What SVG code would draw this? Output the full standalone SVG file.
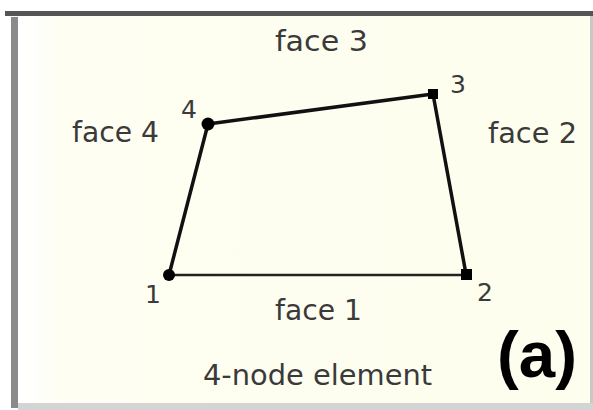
<svg xmlns="http://www.w3.org/2000/svg" width="593" height="410" viewBox="0 0 593 410">
<defs>
<linearGradient id="bg" x1="0" y1="0" x2="1" y2="0">
<stop offset="0" stop-color="#ffffff"/>
<stop offset="0.08" stop-color="#fefef2"/>
<stop offset="1" stop-color="#fefeee"/>
</linearGradient>
<style>
.t{font-family:"DejaVu Sans","Liberation Sans",sans-serif;font-size:28px;fill:#3a3a3a}
.n{font-family:"DejaVu Sans","Liberation Sans",sans-serif;font-size:25px;fill:#3a3a3a}
.edge{stroke:#111;stroke-width:3.5;stroke-linecap:round;fill:none}
.dot{fill:#000}
</style>
</defs>
<rect x="0" y="0" width="593" height="410" fill="#ffffff"/>
<rect x="18" y="16" width="573" height="387" fill="url(#bg)"/>
<rect x="5" y="11" width="588" height="5" fill="#555555"/>
<rect x="11" y="17" width="7" height="391" fill="#8a8a8a"/>
<rect x="590" y="16" width="3" height="390" fill="#c8c8c8"/>
<rect x="18" y="403" width="575" height="7" fill="#d4d4d4"/>
<g id="connectors">
<line class="edge" x1="169" y1="275" x2="208" y2="124"/>
<line class="edge" x1="208" y1="124" x2="433" y2="94"/>
<line class="edge" x1="433" y1="94" x2="466" y2="274"/>
<line x1="169" y1="275" x2="466" y2="275" stroke="#222" stroke-width="2.5"/>
</g>
<g id="node1"><circle class="dot" cx="169" cy="275" r="6"/><text class="n" x="145" y="303">1</text></g>
<g id="node2"><rect class="dot" x="461" y="269" width="11" height="11"/><text class="n" x="477" y="301">2</text></g>
<g id="node3"><rect class="dot" x="428" y="89" width="10" height="10"/><text class="n" x="450" y="93">3</text></g>
<g id="node4"><circle class="dot" cx="208" cy="124" r="6.5"/><text class="n" x="181" y="118">4</text></g>
<g id="labels">
<text class="t" x="275" y="51" textLength="93" lengthAdjust="spacingAndGlyphs">face 3</text>
<text class="t" x="72" y="142" textLength="87" lengthAdjust="spacingAndGlyphs">face 4</text>
<text class="t" x="488" y="143" textLength="89" lengthAdjust="spacingAndGlyphs">face 2</text>
<text class="t" x="275" y="320" textLength="87" lengthAdjust="spacingAndGlyphs">face 1</text>
<text class="t" x="203" y="385" textLength="229" lengthAdjust="spacingAndGlyphs">4-node element</text>
<text x="497" y="377" font-family="Liberation Sans, Arial, sans-serif" font-weight="bold" font-size="64" fill="#000" textLength="80" lengthAdjust="spacingAndGlyphs">(a)</text>
</g>
</svg>
